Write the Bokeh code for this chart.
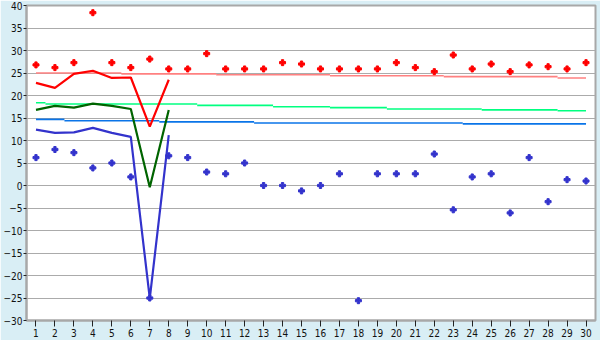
from bokeh.plotting import figure
from bokeh.models import Range1d, FixedTicker
from bokeh.embed import file_html
from bokeh.resources import INLINE

days = list(range(1, 31))
max_pts = [26.8, 26.2, 27.3, 38.4, 27.3, 26.2, 28.1, 25.9, 25.9, 29.3,
           25.9, 25.9, 25.9, 27.3, 27.0, 25.9, 25.9, 25.9, 25.9, 27.3,
           26.2, 25.3, 29.0, 25.9, 27.0, 25.3, 26.8, 26.4, 25.9, 27.3]
min_pts = [6.2, 8.0, 7.3, 3.9, 5.0, 1.9, -25.0, 6.6, 6.2, 3.0,
           2.6, 5.0, 0.0, 0.0, -1.2, 0.0, 2.6, -25.6, 2.6, 2.6,
           2.6, 7.0, -5.4, 1.9, 2.6, -6.1, 6.2, -3.6, 1.3, 1.0]

line_days = [1, 2, 3, 4, 5, 6, 7, 8]
max_line = [22.8, 21.7, 24.8, 25.5, 23.9, 24.0, 13.1, 23.5]
avg_line = [16.8, 17.7, 17.3, 18.2, 17.7, 17.0, -0.4, 16.8]
min_line = [12.4, 11.7, 11.8, 12.8, 11.7, 10.8, -25.1, 11.2]

norm_max_breaks = [1, 5.5, 10.5, 16.5, 22.5, 28.5, 30]
norm_max_vals = [25.0, 24.8, 24.6, 24.4, 24.2, 23.9]
norm_avg_breaks = [1, 1.5, 9.5, 13.5, 16.5, 19.5, 24.5, 28.5, 30]
norm_avg_vals = [18.4, 18.1, 17.8, 17.5, 17.3, 17.0, 16.8, 16.6]
norm_min_breaks = [1, 2.5, 7.5, 12.5, 23.5, 30]
norm_min_vals = [14.7, 14.4, 14.15, 13.9, 13.7]

y_ticks = list(range(-30, 45, 5))

p = figure(width=600, height=340, output_backend="svg", toolbar_location=None,
           x_range=Range1d(0.5, 30.5), y_range=Range1d(-30, 40),
           min_border_left=26, min_border_right=5, min_border_top=5, min_border_bottom=20)
p.background_fill_color = "white"
p.border_fill_color = "#D9EEF5"
p.outline_line_color = "#A8A8A8"
p.outline_line_width = 2

p.xgrid.grid_line_color = None
p.ygrid.grid_line_color = "#ABABAB"
p.ygrid.grid_line_width = 1
p.yaxis.ticker = FixedTicker(ticks=y_ticks)
p.xaxis.ticker = FixedTicker(ticks=days)

for ax in (p.xaxis, p.yaxis):
    ax.axis_line_color = "#A8A8A8"
    ax.axis_line_width = 2
    ax.major_tick_line_color = "#222222"
    ax.major_tick_in = 0
    ax.minor_tick_line_color = None
    ax.major_label_text_font = "DejaVu Sans Condensed"
    ax.major_label_text_font_size = "10px"
    ax.major_label_text_color = "#111111"
p.xaxis.major_label_standoff = 2
p.yaxis.major_label_standoff = 1
p.xaxis.major_tick_out = 6
p.yaxis.major_tick_out = 3


def steps(breaks, vals):
    xs, ys = [], []
    for i, v in enumerate(vals):
        xs.append([breaks[i], breaks[i + 1]])
        ys.append([v, v])
    return xs, ys

for br, vals, col in [(norm_max_breaks, norm_max_vals, "#FF8080"),
                      (norm_avg_breaks, norm_avg_vals, "#00FF80"),
                      (norm_min_breaks, norm_min_vals, "#0A74E8")]:
    xs, ys = steps(br, vals)
    p.multi_line(xs, ys, line_color=col, line_width=1.6)

p.line(line_days, max_line, line_color="#FF0000", line_width=2.2)
p.line(line_days, avg_line, line_color="#006400", line_width=2.2)
p.line(line_days, min_line, line_color="#3333CC", line_width=2.2)

p.scatter(days, max_pts, marker="plus", size=6, color="#FF0000")
p.scatter(days, min_pts, marker="plus", size=6, color="#3333CC")

open("out.html", "w").write(file_html(p, INLINE))
